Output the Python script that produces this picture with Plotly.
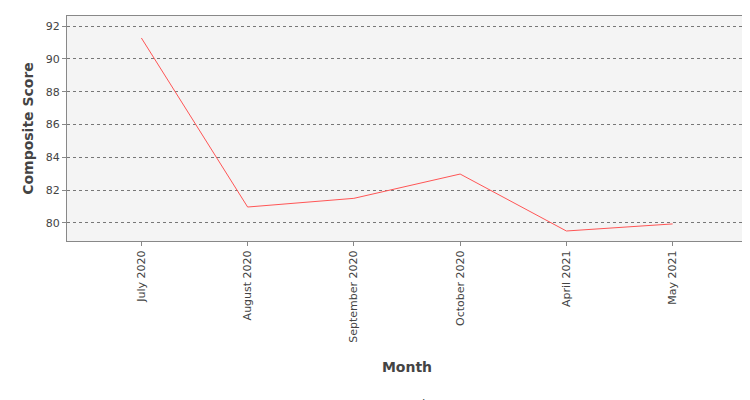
import plotly.graph_objects as go

months = ["July 2020", "August 2020", "September 2020", "October 2020", "April 2021", "May 2021"]
scores = [91.27, 80.97, 81.5, 82.98, 79.51, 79.94]
y_ticks = [80, 82, 84, 86, 88, 90, 92]

fig = go.Figure(go.Scatter(x=months, y=scores, mode="lines", name="Composite Score",
                           line=dict(color="#ff5555", width=1)))
fig.update_layout(
    width=750, height=400, paper_bgcolor="white", plot_bgcolor="#f4f4f4",
    margin=dict(l=59, r=11, t=8, b=167, autoexpand=False),
    font=dict(family="DejaVu Sans", size=11, color="#444"),
    showlegend=True,
    legend=dict(orientation="h", x=0.5, xanchor="center", y=-0.66, yanchor="top",
                font=dict(size=12)),
)
fig.update_xaxes(type="category", range=[-0.7, 5.7], tickangle=-90, showgrid=False,
                 automargin=False,
                 ticks="outside", ticklen=4, tickcolor="#888",
                 showline=True, linecolor="#888", mirror=True,
                 title=dict(text="<b>Month</b>", font=dict(size=14, color="#444"), standoff=20))
fig.update_yaxes(range=[78.9, 92.61], tickvals=y_ticks, showgrid=True, gridcolor="#777",
                 griddash="dot", gridwidth=0.5, zeroline=False, automargin=False,
                 ticks="outside", ticklen=4, tickcolor="#888",
                 showline=True, linecolor="#888", mirror=True,
                 title=dict(text="<b>Composite Score</b>", font=dict(size=14, color="#444"), standoff=8))
fig.write_html("out.html")
